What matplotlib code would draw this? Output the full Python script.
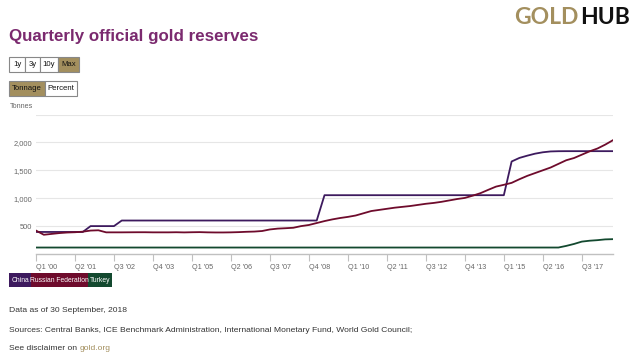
import matplotlib
matplotlib.use("Agg")
import matplotlib.pyplot as plt
from matplotlib.patches import Rectangle

plt.rcParams['font.family'] = ['Liberation Sans', 'DejaVu Sans']

# ---------------- data ----------------
quarters = [f"Q{q} {y}" for y in range(2000, 2019) for q in range(1, 5)][:75]

china = ([395] * 7 + [500] * 4 + [600] * 26 + [1054] * 24 +
         [1658, 1722, 1762, 1798, 1823, 1838, 1842] + [1843] * 7)

russia = [420, 345, 360, 375,
          385, 390, 400, 420,
          425, 388, 388, 388,
          389, 390, 390, 388,
          388, 388, 390, 387,
          390, 392, 388, 386,
          386, 388, 392, 398,
          402, 412, 440, 455,
          462, 470, 500, 520,
          555, 590, 620, 645,
          665, 690, 730, 770,
          790, 810, 830, 845,
          860, 880, 900, 915,
          935, 960, 985, 1005,
          1045, 1090, 1150, 1208,
          1240, 1275, 1340, 1400,
          1450, 1500, 1550, 1615,
          1680, 1720, 1780, 1840,
          1890, 1960, 2040]

turkey = [116] * 68 + [145, 180, 222, 238, 248, 262, 266]

series_names = ["China", "Russian Federation", "Turkey"]
series_colors = ["#3d1a5e", "#6e0b2c", "#13492f"]

tick_labels = ["Q1 '00", "Q2 '01", "Q3 '02", "Q4 '03", "Q1 '05", "Q2 '06",
               "Q3 '07", "Q4 '08", "Q1 '10", "Q2 '11", "Q3 '12", "Q4 '13",
               "Q1 '15", "Q2 '16", "Q3 '17"]
y_ticks = [500, 1000, 1500, 2000]
y_tick_labels = ["500", "1,000", "1,500", "2,000"]

# ---------------- figure ----------------
W, H = 640, 363
fig = plt.figure(figsize=(W / 100, H / 100), dpi=100)
fig.patch.set_facecolor("white")

def fx(px):
    return px / W

def fy(py):
    return 1 - py / H

left, right, top, bottom = 36, 613, 114.5, 254
ax = fig.add_axes([fx(left), fy(bottom), fx(right - left), (bottom - top) / H])
x = list(range(len(quarters)))
for vals, c in zip([china, russia, turkey], series_colors):
    ax.plot(x, vals, color=c, lw=1.3, solid_joinstyle='round')

ax.set_xlim(0, len(quarters) - 1)
ax.set_ylim(0, 2500)
ax.set_yticks(y_ticks + [2500])
ax.set_yticklabels(y_tick_labels + [""])
ax.yaxis.grid(True, color="#e6e6e6", lw=0.8)
ax.set_axisbelow(True)
for s in ["top", "right", "left"]:
    ax.spines[s].set_visible(False)
ax.spines["bottom"].set_color("#c0c0c0")
ax.spines["bottom"].set_linewidth(1)
ax.tick_params(axis="y", length=0, pad=3, labelsize=5.4, labelcolor="#666666")
ax.set_xticks([i * 5 for i in range(len(tick_labels))])
ax.set_xticklabels(tick_labels, ha="left")
ax.tick_params(axis="x", length=5, color="#c0c0c0", width=0.8, pad=2,
               labelsize=5.2, labelcolor="#666666")

# ---------------- header ----------------
fig.text(fx(9), fy(36), "Quarterly official gold reserves", fontsize=12.2,
         fontweight="bold", color="#7b2a6f", va="center", ha="left")
g = fig.text(fx(514), fy(18), "GOLD", fontsize=16.5, fontweight="bold",
             color="#a38f5e", va="center", ha="left", family=["Lato", "DejaVu Sans"])
fig.canvas.draw()
gb = g.get_window_extent()
fig.text((gb.x1 + 2) / W, fy(18), "HUB", fontsize=16.5, fontweight="bold",
         color="#111111", va="center", ha="left", family=["Lato", "DejaVu Sans"])

def button(x0, y0, w, h, label, active):
    fc = "#a38f5e" if active else "white"
    fig.patches.append(Rectangle((fx(x0), fy(y0 + h)), w / W, h / H,
                                 transform=fig.transFigure, facecolor=fc,
                                 edgecolor="#888888", lw=0.8))
    fig.text(fx(x0 + w / 2), fy(y0 + h / 2), label, fontsize=5.6,
             color="#111111", ha="center", va="center")

range_btns = [("1y", 9, 16), ("3y", 25, 15), ("10y", 40, 18), ("Max", 58, 21)]
for lab, x0, w in range_btns:
    button(x0, 57, w, 15, lab, lab == "Max")
button(9, 81, 36, 15, "Tonnage", True)
button(45, 81, 32, 15, "Percent", False)

fig.text(fx(10), fy(107), "Tonnes", fontsize=5.2, color="#666666",
         va="center", ha="left")

# ---------------- legend ----------------
leg_pos = [(9, 22), (31, 57), (88, 24)]
for (x0, w), name, c in zip(leg_pos, series_names, series_colors):
    fig.patches.append(Rectangle((fx(x0), fy(287)), w / W, 14 / H,
                                 transform=fig.transFigure, facecolor=c,
                                 edgecolor="none"))
    fig.text(fx(x0 + w / 2), fy(280.5), name, fontsize=4.9, color="white",
             ha="center", va="center")

# ---------------- footer ----------------
fs = 6.1
fig.text(fx(9), fy(310), "Data as of 30 September, 2018", fontsize=fs,
         color="#333333", va="center", ha="left")
fig.text(fx(9), fy(330),
         "Sources: Central Banks, ICE Benchmark Administration, International Monetary Fund, World Gold Council;",
         fontsize=fs, color="#333333", va="center", ha="left")
t = fig.text(fx(9), fy(349), "See disclaimer on ", fontsize=fs,
             color="#333333", va="center", ha="left")
fig.canvas.draw()
bb = t.get_window_extent()
fig.text(bb.x1 / W, fy(349), "gold.org", fontsize=fs, color="#a38f5e",
         va="center", ha="left")

fig.savefig("out.png", dpi=100, facecolor="white")
